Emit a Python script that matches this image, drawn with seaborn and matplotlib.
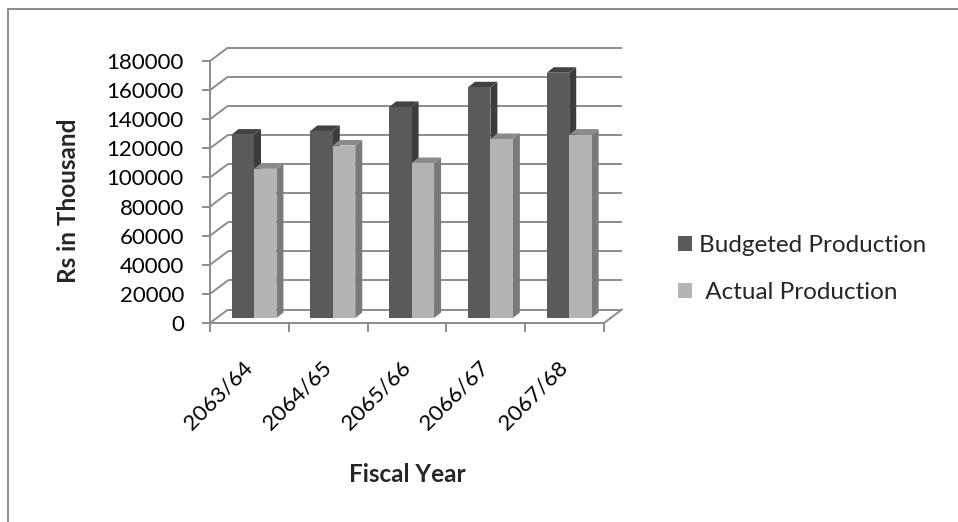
import numpy as np
import pandas as pd
import matplotlib
matplotlib.use("Agg")
import matplotlib.pyplot as plt
from matplotlib.patches import Polygon, Patch
from matplotlib.lines import Line2D
import seaborn as sns

# ---- data -------------------------------------------------------------
years = ["2063/64", "2064/65", "2065/66", "2066/67", "2067/68"]
budgeted = [126000, 128500, 145000, 158500, 168500]
actual = [102500, 118500, 106500, 123000, 126000]
series_names = ["Budgeted Production", " Actual Production"]
y_ticks = list(range(0, 180001, 20000))

# ---- styling ----------------------------------------------------------
front_colors = ["#5a5a5a", "#b4b4b4"]
side_colors = ["#3c3c3c", "#7a7a7a"]
top_colors = ["#424242", "#8b8b8b"]
grid_color = "#8c8c8c"
FS = 16
FS_TITLE = 17.5
FS_LEGEND = 17.5

W, H = 958, 522
sns.set_theme(style="white")
plt.rcParams["font.family"] = ["Lato", "DejaVu Sans"]

fig = plt.figure(figsize=(W / 100, H / 100), dpi=100)

# front plane of the 3-D box (pixel extents)
left, right, top, bottom = 210, 604, 61, 323
ax = fig.add_axes([left / W, 1 - bottom / H, (right - left) / W, (bottom - top) / H])
ax.patch.set_alpha(0)

df = pd.DataFrame({
    "Fiscal Year": years * 2,
    "Value": budgeted + actual,
    "Series": [series_names[0]] * len(years) + [series_names[1]] * len(years),
})
sns.barplot(data=df, x="Fiscal Year", y="Value", hue="Series",
            hue_order=series_names, palette=front_colors, width=0.57,
            saturation=1, errorbar=None, legend=False, ax=ax, zorder=3,
            linewidth=0)

xmin, xmax = -0.5, len(years) - 0.5
ax.set_xlim(xmin, xmax)
ax.set_ylim(0, 180000)

ux = (xmax - xmin) / (right - left)
uy = 180000 / (bottom - top)


def px(dx, dy):
    """Convert a pixel offset to data units."""
    return dx * ux, dy * uy


depth = px(18, 13.5)       # front plane -> back wall
bar_shift = px(4.6, 5)     # front plane -> bar front faces
bar_depth = px(7, 5.5)     # thickness of each column

# back wall gridlines
ax.hlines([v + depth[1] for v in y_ticks], xmin + depth[0], xmax + depth[0],
          colors=grid_color, linewidth=1.4, clip_on=False, zorder=1)
# side wall lines running from the value axis to the back wall
for v in y_ticks:
    ax.plot([xmin, xmin + depth[0]], [v, v + depth[1]], color=grid_color,
            linewidth=1.4, clip_on=False, zorder=1, solid_capstyle="butt")
# right edge of the floor
ax.plot([xmax, xmax + depth[0]], [0, depth[1]], color=grid_color,
        linewidth=1.4, clip_on=False, zorder=1)

# give each column its side and top faces
bars = list(ax.patches)
n = len(years)
for i, p in enumerate(bars):
    s = i // n
    x0 = p.get_x() + bar_shift[0]
    w = p.get_width()
    h = p.get_height()
    y0 = bar_shift[1]
    p.set_x(x0)
    p.set_y(y0)
    p.set_clip_on(False)
    x1 = x0 + w
    y1 = y0 + h
    dx, dy = bar_depth
    side = Polygon([(x1, y0), (x1 + dx, y0 + dy), (x1 + dx, y1 + dy), (x1, y1)],
                   closed=True, facecolor=side_colors[s], edgecolor="none",
                   zorder=2, clip_on=False)
    lid = Polygon([(x0, y1), (x1, y1), (x1 + dx, y1 + dy), (x0 + dx, y1 + dy)],
                  closed=True, facecolor=top_colors[s], edgecolor="none",
                  zorder=2, clip_on=False)
    ax.add_patch(side)
    ax.add_patch(lid)

# axes lines and ticks
for sp in ["top", "right"]:
    ax.spines[sp].set_visible(False)
for sp in ["left", "bottom"]:
    ax.spines[sp].set_color(grid_color)
    ax.spines[sp].set_linewidth(1.4)

ax.set_yticks(y_ticks)
ax.set_yticklabels([str(v) for v in y_ticks])
ax.tick_params(axis="y", which="major", left=True, direction="out",
               length=5.8, width=1.4, color=grid_color, pad=13,
               labelsize=FS, labelcolor="black")

ax.set_xticks(range(len(years)))
ax.set_xticklabels(years)
ax.set_xticks(np.arange(xmin, xmax + 0.01, 1), minor=True)
ax.tick_params(axis="x", which="minor", bottom=True, direction="out",
               length=6.5, width=1.4, color=grid_color)
ax.tick_params(axis="x", which="major", bottom=True, length=0, pad=30,
               labelsize=FS, labelcolor="black")
for lab in ax.get_xticklabels():
    lab.set_rotation(45)
    lab.set_ha("right")
    lab.set_va("center")
    lab.set_rotation_mode("anchor")

ax.set_xlabel("")
ax.set_ylabel("")
ax.grid(False)

fig.text(68 / W, 1 - 201 / H, "Rs in Thousand", rotation=90, ha="center",
         va="center", fontsize=FS_TITLE, fontweight="bold")
fig.text(407 / W, 1 - 475 / H, "Fiscal Year", ha="center", va="center",
         fontsize=FS_TITLE, fontweight="bold")

handles = [Patch(facecolor=c, edgecolor="none") for c in front_colors]
fig.legend(handles, series_names, loc="center left",
           bbox_to_anchor=(678 / W, 1 - 269 / H), frameon=False,
           fontsize=FS_LEGEND, borderpad=0, borderaxespad=0,
           handlelength=0.58, handleheight=0.58,
           handletextpad=0.29, labelspacing=1.05)

# chart border (top and left edges)
fig.add_artist(Line2D([8 / W, 1], [1 - 9 / H, 1 - 9 / H], color=grid_color,
                      linewidth=1.4))
fig.add_artist(Line2D([8 / W, 8 / W], [1 - 9 / H, 0], color=grid_color,
                      linewidth=1.4))

fig.savefig("out.png", dpi=100, facecolor="white")
